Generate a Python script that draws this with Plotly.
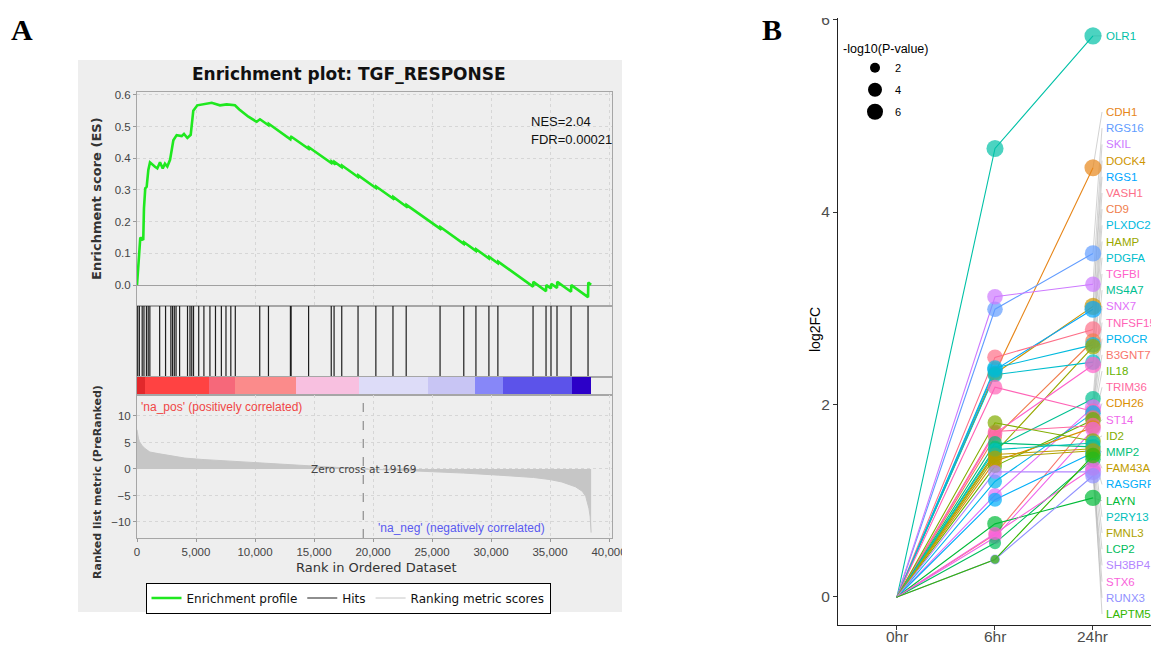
import math
import plotly.graph_objects as go

W, H = 1151, 645

# ---------------- Panel A data (GSEA enrichment plot) ----------------
gsea_title = "Enrichment plot: TGF_RESPONSE"
es_rank = [0, 110, 200, 280, 530, 590, 700, 820, 960, 1100, 1525, 1720, 1950, 2180, 2370, 2570,
           2800, 3080, 3360, 3790, 3980, 4270, 4550, 4770, 5110, 5620, 6330, 7030, 7600, 8300,
           8670, 9440, 10140, 10420, 11140, 11160, 13000, 13060, 13080, 14540, 14560, 16460,
           16480, 16700, 16720, 17350, 17370, 18730, 18750, 20240, 20260, 21690, 21710, 22810,
           22830, 25680, 25700, 27690, 27710, 28720, 28740, 29820, 29840, 30580, 30600, 33560,
           33580, 34660, 34680, 35080, 35100, 35590, 35610, 36780, 36800, 38220, 38240, 38480]
es_value = [0.0, 0.053, 0.105, 0.15, 0.142, 0.242, 0.305, 0.31, 0.363, 0.387, 0.373, 0.368, 0.387,
            0.368, 0.383, 0.374, 0.395, 0.457, 0.473, 0.47, 0.477, 0.464, 0.474, 0.55, 0.567, 0.57,
            0.575, 0.567, 0.57, 0.567, 0.554, 0.531, 0.515, 0.523, 0.504, 0.509, 0.46, 0.468, 0.468,
            0.43, 0.435, 0.385, 0.39, 0.384, 0.389, 0.372, 0.377, 0.341, 0.346, 0.306, 0.311, 0.273,
            0.278, 0.248, 0.253, 0.178, 0.183, 0.13, 0.135, 0.108, 0.113, 0.084, 0.089, 0.069, 0.074,
            -0.005, 0.01, -0.019, 0.0, -0.011, 0.004, -0.009, 0.01, -0.021, 0.0, -0.038, 0.008, 0.001]
hit_rank = [60, 200, 440, 590, 800, 950, 1090, 1920, 2420, 2870, 3010, 3160, 3310, 3610, 4280, 4490,
            4640, 4790, 5230, 5670, 6180, 6650, 7150, 7540, 7950, 8330, 10400, 11140, 13000, 13060,
            14540, 16460, 16700, 17350, 18730, 20240, 21690, 22810, 25680, 27690, 28720, 29820,
            30580, 33560, 34660, 35080, 35590, 36780, 38220]
metric_rank = [0, 50, 120, 200, 400, 650, 1090, 1800, 2570, 4050, 5500, 7000, 9960, 12900, 15870,
               19169, 21780, 24730, 27690, 30640, 33600, 35000, 36000, 37150, 37730, 38030, 38180,
               38300, 38400, 38440, 38480]
metric_value = [7.4, 6.5, 5.8, 5.2, 4.5, 3.9, 3.2, 2.9, 2.6, 2.06, 1.8, 1.6, 1.16, 0.77, 0.45, 0.0,
                -0.2, -0.45, -0.77, -1.16, -1.6, -2.0, -2.45, -3.35, -4.2, -5.2, -6.5, -7.5, -9.0,
                -10.5, -12.0]
band_edges = [0, 700, 6100, 8300, 13500, 18800, 24700, 28600, 31000, 36900, 38480]
zero_cross = 19169
nes_value = 2.04
fdr_value = 0.00021
rank_ticks = [0, 5000, 10000, 15000, 20000, 25000, 30000, 35000, 40000]
es_ticks = [0.0, 0.1, 0.2, 0.3, 0.4, 0.5, 0.6]
metric_ticks = [-10, -5, 0, 5, 10]
legend_names_a = ["Enrichment profile", "Hits", "Ranking metric scores"]

# ---------------- Panel B data (log2FC time course) ----------------
timepoints = ["0hr", "6hr", "24hr"]
genes = ["OLR1", "CDH1", "RGS16", "SKIL", "DOCK4", "RGS1", "VASH1", "CD9", "PLXDC2", "HAMP",
         "PDGFA", "TGFBI", "MS4A7", "SNX7", "TNFSF15", "PROCR", "B3GNT7", "IL18", "TRIM36",
         "CDH26", "ST14", "ID2", "MMP2", "FAM43A", "RASGRP1", "LAYN", "P2RY13", "FMNL3", "LCP2",
         "SH3BP4", "STX6", "RUNX3", "LAPTM5"]
log2fc_0hr = [0.0] * 33
log2fc_6hr = [4.66, 2.33, 2.99, 3.12, 2.32, 2.36, 2.49, 1.66, 2.38, 1.50,
              2.31, 1.70, 1.55, 1.06, 2.18, 1.20, 0.65, 1.36, 1.72,
              1.41, 0.62, 1.81, 1.60, 1.48, 1.01, 0.76, 1.53, 1.45, 0.56,
              1.30, 0.66, 0.39, 0.39]
log2fc_24hr = [5.83, 4.46, 3.57, 3.25, 3.02, 2.99, 2.78, 2.66, 2.62, 2.60,
               2.44, 2.41, 2.06, 1.97, 1.93, 1.91, 1.86, 1.84, 1.78,
               1.76, 1.74, 1.62, 1.56, 1.54, 1.50, 1.03, 1.60, 1.52, 1.43,
               1.30, 1.34, 1.26, 1.47]
nlogp_0hr = [0.0] * 33
nlogp_6hr = [6, 4, 5, 5, 4.5, 5, 5, 4, 5, 4,
             4.5, 4.5, 4, 4, 4.5, 4, 3.5, 4, 4,
             4, 3.5, 4.5, 4, 4, 4, 5, 4, 4, 3,
             4, 3.5, 2, 1.5]
nlogp_24hr = [6, 6, 5.5, 5, 6, 6, 5.5, 5, 5, 5,
              5, 5.5, 5, 5.5, 5, 5, 5, 5, 5,
              4.5, 5, 5, 5, 4.5, 5, 5.5, 4.5, 4.5, 5,
              5.5, 5, 5, 5]
fc_ticks = [0, 2, 4, 6]
size_levels = [2, 4, 6]
size_legend_title = "-log10(P-value)"


# ---------------- helpers ----------------
def fx(px):
    return px / W


def fy(py):
    return 1 - py / H


def hue_hex(h, c=100.0, l=65.0):
    hr = math.radians(h)
    u, v = c * math.cos(hr), c * math.sin(hr)
    Xn, Yn, Zn = 95.047, 100.0, 108.883
    un = 4 * Xn / (Xn + 15 * Yn + 3 * Zn)
    vn = 9 * Yn / (Xn + 15 * Yn + 3 * Zn)
    Y = Yn * ((l + 16) / 116) ** 3
    up = u / (13 * l) + un
    vp = v / (13 * l) + vn
    X = Y * 9 * up / (4 * vp)
    Z = Y * (12 - 3 * up - 20 * vp) / (4 * vp)
    X, Y, Z = X / 100, Y / 100, Z / 100
    r = 3.2404542 * X - 1.5371385 * Y - 0.4985314 * Z
    g = -0.9692660 * X + 1.8760108 * Y + 0.0415560 * Z
    b = 0.0556434 * X - 0.2040259 * Y + 1.0572252 * Z

    def gam(t):
        t = 12.92 * t if t <= 0.0031308 else 1.055 * t ** (1 / 2.4) - 0.055
        return int(round(max(0.0, min(1.0, t)) * 255))

    return "#%02X%02X%02X" % (gam(r), gam(g), gam(b))


def dot_size(v):
    return math.sqrt(4 + 48 * v)


def note(x, y, text, font, xref="paper", yref="paper", xanchor="center", yanchor="middle",
         angle=0):
    return dict(x=x, y=y, xref=xref, yref=yref, text=text, showarrow=False, xanchor=xanchor,
                yanchor=yanchor, textangle=angle, font=font)


# ---------------- styles ----------------
band_colors = ["#e2282b", "#ff4242", "#f6687a", "#fb8b8b", "#f8c0e0", "#dddcf8",
               "#c8c5f4", "#8787f8", "#5c53ea", "#2c00c8"]
TICK_FONT = dict(family="Liberation Sans", size=11.5, color="#444444")
GRID = "#d6d6d6"
BORDER = "#a6a6a6"
A_X = [fx(137), fx(612)]
rank_range = [0, 40250]

fig = go.Figure()

# ES curve
fig.add_trace(go.Scatter(x=es_rank, y=es_value, mode="lines", xaxis="x", yaxis="y",
                         line=dict(color="#1fe81f", width=2.6), name=legend_names_a[0],
                         legend="legend", hoverinfo="skip"))
# Hits
hx, hy = [], []
for h in hit_rank:
    hx += [h, h, None]
    hy += [0, 1, None]
fig.add_trace(go.Scatter(x=hx, y=hy, mode="lines", xaxis="x2", yaxis="y2",
                         line=dict(color="#1e1e1e", width=1.2), name=legend_names_a[1],
                         legend="legend", hoverinfo="skip"))
# Colour band of ranked list
nb = len(band_edges) - 1
fig.add_trace(go.Heatmap(x=band_edges, y=[0, 1], z=[list(range(nb))], xaxis="x3", yaxis="y3",
                         colorscale=[[k / (nb - 1), band_colors[k]] for k in range(nb)],
                         zmin=0, zmax=nb - 1, showscale=False, hoverinfo="skip"))
# Ranked list metric (fill + outline used for legend)
fig.add_trace(go.Scatter(x=metric_rank, y=metric_value, mode="lines", fill="tozeroy",
                         fillcolor="#c6c6c6", line=dict(width=0, color="#c6c6c6"),
                         xaxis="x4", yaxis="y4", showlegend=False, hoverinfo="skip"))
fig.add_trace(go.Scatter(x=metric_rank, y=metric_value, mode="lines",
                         line=dict(width=1, color="#c6c6c6"), xaxis="x4", yaxis="y4",
                         name=legend_names_a[2], legend="legend", hoverinfo="skip"))

# ---------------- Panel B traces ----------------
n = len(genes)
order = sorted(genes)
gene_color = {g: hue_hex(15 + 360.0 * i / n) for i, g in enumerate(order)}
tx = list(range(len(timepoints)))

for i, g in enumerate(genes):
    fig.add_trace(go.Scatter(x=tx, y=[log2fc_0hr[i], log2fc_6hr[i], log2fc_24hr[i]],
                             mode="lines", line=dict(color=gene_color[g], width=1.1),
                             xaxis="x5", yaxis="y5", showlegend=False, hoverinfo="skip"))

XB = [-0.602, 2.592]
YB = [-0.291, 6.016]
B_LEFT, B_RIGHT, B_BOTTOM, B_TOP = 838, 1151, 625, 18


def bx(px):
    return XB[0] + (px - B_LEFT) * (XB[1] - XB[0]) / (B_RIGHT - B_LEFT)


def by(py):
    return YB[0] + (B_BOTTOM - py) * (YB[1] - YB[0]) / (B_BOTTOM - B_TOP)


# repel-like label stacking on the right side
label_y = [log2fc_24hr[0]]
top_px, bot_px = 112, 614
for k in range(1, n):
    label_y.append(by(top_px + (k - 1) * (bot_px - top_px) / (n - 2)))

sx, sy = [], []
for i in range(n):
    sx += [tx[-1], bx(1102), None]
    sy += [log2fc_24hr[i], label_y[i], None]
fig.add_trace(go.Scatter(x=sx, y=sy, mode="lines", line=dict(color="#b4b4b4", width=0.6),
                         xaxis="x5", yaxis="y5", showlegend=False, hoverinfo="skip"))

for i, g in enumerate(genes):
    fig.add_trace(go.Scatter(x=tx, y=[log2fc_0hr[i], log2fc_6hr[i], log2fc_24hr[i]],
                             mode="markers",
                             marker=dict(color=gene_color[g], line=dict(width=0),
                                         size=[dot_size(nlogp_0hr[i]), dot_size(nlogp_6hr[i]),
                                               dot_size(nlogp_24hr[i])]),
                             xaxis="x5", yaxis="y5", showlegend=False, hoverinfo="skip"))

for v in size_levels:
    fig.add_trace(go.Scatter(x=[None], y=[None], mode="markers", name=str(v),
                             marker=dict(color="black", size=dot_size(v)),
                             xaxis="x5", yaxis="y5", legend="legend2", legendgroup="s%d" % v))

B_TICK_FONT = dict(family="Liberation Sans", size=15.5, color="#4d4d4d")

annotations = []
for i, g in enumerate(genes):
    annotations.append(note(bx(1104), label_y[i], g,
                            dict(family="Liberation Sans", size=11.5, color=gene_color[g]),
                            xref="x5", yref="y5", xanchor="left"))
# time-point tick labels (placed just under the axis ticks so they stay inside the image)
for t, lab in zip(tx, timepoints):
    annotations.append(note(t, fy(636), lab, B_TICK_FONT, xref="x5", yref="paper"))

annotations += [
    note(fx(22), fy(29), "<b>A</b>", dict(family="Liberation Serif", size=30, color="black")),
    note(fx(772), fy(29), "<b>B</b>", dict(family="Liberation Serif", size=30, color="black")),
    note(fx(349), fy(74), "<b>%s</b>" % gsea_title,
         dict(family="DejaVu Sans", size=17, color="#111111")),
    note(fx(529), fy(121), "NES=%s" % nes_value,
         dict(family="Liberation Sans", size=13, color="#111111"), xanchor="left"),
    note(fx(529), fy(140), "FDR=%s" % fdr_value,
         dict(family="Liberation Sans", size=13, color="#111111"), xanchor="left"),
    note(fx(97), fy(199), "<b>Enrichment score (ES)</b>",
         dict(family="DejaVu Sans", size=13, color="#333333"), angle=-90),
    note(fx(97), fy(482), "<b>Ranked list metric (PreRanked)</b>",
         dict(family="DejaVu Sans", size=11, color="#333333"), angle=-90),
    note(fx(376), fy(567), "Rank in Ordered Dataset",
         dict(family="DejaVu Sans", size=13, color="#333333")),
    note(fx(139), fy(407), "'na_pos' (positively correlated)",
         dict(family="Liberation Sans", size=12, color="#f04646"), xanchor="left"),
    note(fx(376), fy(528), "'na_neg' (negatively correlated)",
         dict(family="Liberation Sans", size=12, color="#5a5af0"), xanchor="left"),
    note(zero_cross, 0, "Zero cross at %d" % zero_cross,
         dict(family="DejaVu Sans", size=10.5, color="#444444"), xref="x4", yref="y4"),
    note(fx(815), fy(330), "log2FC", dict(family="Liberation Sans", size=14, color="black"),
         angle=-90),
]

shapes = [
    dict(type="rect", xref="paper", yref="paper", x0=fx(78), x1=fx(622), y0=fy(612), y1=fy(60),
         fillcolor="#eeeeee", line=dict(width=0), layer="below"),
    dict(type="line", xref="x4", yref="y4 domain", x0=zero_cross, x1=zero_cross, y0=0, y1=1,
         line=dict(color="#7a7a7a", width=1, dash="dash")),
    # image edges of the two pasted panels (clip like the reference)
    dict(type="rect", xref="paper", yref="paper", x0=fx(790), x1=1, y0=fy(B_TOP), y1=1,
         fillcolor="white", line=dict(width=0), layer="above"),
    dict(type="rect", xref="paper", yref="paper", x0=fx(622), x1=fx(660), y0=fy(560), y1=fy(538),
         fillcolor="white", line=dict(width=0), layer="above"),
]

a_axis_common = dict(showline=True, mirror=True, linecolor=BORDER, linewidth=1, zeroline=False,
                     automargin=False)

fig.update_layout(
    width=W, height=H, autosize=False,
    margin=dict(l=0, r=0, t=0, b=0, pad=0, autoexpand=False),
    paper_bgcolor="white", plot_bgcolor="white",
    xaxis=dict(domain=A_X, range=rank_range, anchor="y", tickvals=rank_ticks, showticklabels=False,
               ticks="", showgrid=True, gridcolor=GRID, griddash="dot", **a_axis_common),
    yaxis=dict(domain=[fy(306), fy(92)], range=[-0.066, 0.609], anchor="x", tickvals=es_ticks,
               tickformat=".1f", ticks="outside", ticklen=3, tickcolor="#999999",
               tickfont=TICK_FONT, showgrid=True, gridcolor=GRID, griddash="dot",
               showline=True, mirror=True, linecolor=BORDER, linewidth=1, automargin=False,
               zeroline=True, zerolinecolor="#a0a0a0", zerolinewidth=1),
    xaxis2=dict(domain=A_X, range=rank_range, anchor="y2", showticklabels=False, ticks="",
                showgrid=False, **a_axis_common),
    yaxis2=dict(domain=[fy(377), fy(306)], range=[0, 1], anchor="x2", showticklabels=False,
                ticks="", showgrid=False, **a_axis_common),
    xaxis3=dict(domain=A_X, range=rank_range, anchor="y3", showticklabels=False, ticks="",
                showgrid=False, **a_axis_common),
    yaxis3=dict(domain=[fy(395), fy(377)], range=[0, 1], anchor="x3", showticklabels=False,
                ticks="", showgrid=False, **a_axis_common),
    xaxis4=dict(domain=A_X, range=rank_range, anchor="y4", tickvals=rank_ticks, tickformat=",",
                ticks="outside", ticklen=3, tickcolor="#999999", tickfont=TICK_FONT,
                showgrid=True, gridcolor=GRID, griddash="dot", **a_axis_common),
    yaxis4=dict(domain=[fy(538), fy(395)], range=[-13.02, 13.96], anchor="x4",
                tickvals=metric_ticks, ticks="outside", ticklen=3, tickcolor="#999999",
                tickfont=TICK_FONT, showgrid=True, gridcolor=GRID, griddash="dot",
                **a_axis_common),
    xaxis5=dict(domain=[fx(B_LEFT), 1.0], range=XB, anchor="y5", tickvals=tx,
                showticklabels=False,
                ticks="outside", ticklen=4, tickwidth=1, tickcolor="#333333", showline=True,
                linecolor="#222222", linewidth=1, showgrid=False, zeroline=False, automargin=False),
    yaxis5=dict(domain=[fy(B_BOTTOM), fy(B_TOP)], range=YB, anchor="x5", tickvals=fc_ticks,
                ticks="outside", ticklen=4, tickwidth=1, tickcolor="#333333", showline=True,
                linecolor="#222222", linewidth=1, showgrid=False, zeroline=False, automargin=False,
                tickfont=B_TICK_FONT),
    legend=dict(orientation="h", x=fx(348), xanchor="center", y=fy(598), yanchor="middle",
                bordercolor="black", borderwidth=1, bgcolor="white", itemwidth=30,
                font=dict(family="DejaVu Sans", size=12, color="#111111")),
    legend2=dict(title=dict(text=size_legend_title,
                            font=dict(family="Liberation Sans", size=12.5, color="black")),
                 x=fx(841), xanchor="left", y=fy(37), yanchor="top", bgcolor="rgba(0,0,0,0)",
                 indentation=14, tracegroupgap=3,
                 font=dict(family="Liberation Sans", size=11, color="black")),
    annotations=annotations,
    shapes=shapes,
    hovermode=False,
)

fig.write_html("out.html", include_plotlyjs=True, full_html=True,
               config={"displayModeBar": False},
               post_script="document.body.style.margin='0';")
